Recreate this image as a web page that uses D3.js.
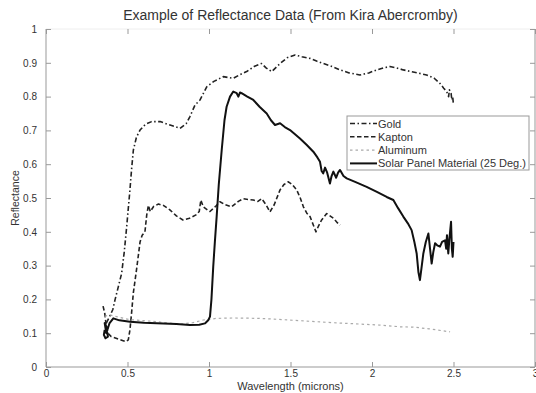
<!DOCTYPE html>
<meta charset="UTF-8">
<title>Reflectance Data</title>
<style>
  body { margin: 0; background: #fff; }
  text { font-family: "Liberation Sans", Arial, sans-serif; fill: #333; }
</style>
<svg width="536" height="393"></svg>
<script src="https://d3js.org/d3.v7.min.js"></script>
<script>
// wavelength (microns), reflectance
var gold = [[0.37,0.13],[0.39,0.149],[0.41,0.17],[0.423,0.198],[0.445,0.24],[0.464,0.277],[0.48,0.34],[0.495,0.415],[0.505,0.47],
  [0.515,0.524],[0.525,0.585],[0.536,0.642],[0.555,0.68],[0.577,0.701],[0.61,0.718],[0.648,0.726],[0.70,0.726],[0.761,0.716],
  [0.822,0.706],[0.86,0.72],[0.883,0.741],[0.914,0.775],[0.945,0.79],[0.986,0.829],[1.03,0.845],[1.088,0.859],[1.149,0.854],
  [1.19,0.865],[1.231,0.874],[1.28,0.89],[1.323,0.898],[1.35,0.885],[1.385,0.874],[1.436,0.898],[1.48,0.915],[1.528,0.923],
  [1.57,0.918],[1.62,0.913],[1.66,0.905],[1.701,0.898],[1.75,0.89],[1.804,0.879],[1.86,0.87],[1.926,0.864],[1.98,0.87],
  [2.029,0.879],[2.07,0.885],[2.11,0.889],[2.15,0.885],[2.192,0.879],[2.26,0.872],[2.335,0.864],[2.38,0.855],[2.417,0.839],
  [2.44,0.825],[2.458,0.815],[2.47,0.80],[2.475,0.82],[2.485,0.81],[2.49,0.79],[2.495,0.80],[2.50,0.775]];

var kapton = [[0.35,0.18],[0.36,0.16],[0.37,0.12],[0.38,0.10],[0.40,0.09],[0.43,0.085],[0.46,0.08],[0.49,0.075],[0.505,0.08],
  [0.515,0.11],[0.525,0.16],[0.536,0.22],[0.556,0.29],[0.577,0.37],[0.59,0.39],[0.607,0.40],[0.618,0.45],[0.628,0.478],
  [0.64,0.46],[0.66,0.475],[0.69,0.482],[0.72,0.478],[0.76,0.465],[0.80,0.447],[0.84,0.435],[0.88,0.44],[0.92,0.45],
  [0.94,0.46],[0.95,0.494],[0.965,0.474],[0.99,0.465],[1.006,0.46],[1.04,0.475],[1.067,0.489],[1.10,0.48],[1.139,0.474],
  [1.18,0.49],[1.21,0.498],[1.25,0.495],[1.272,0.494],[1.30,0.49],[1.323,0.498],[1.35,0.48],[1.374,0.459],[1.40,0.48],
  [1.436,0.524],[1.46,0.54],[1.487,0.548],[1.51,0.54],[1.538,0.524],[1.56,0.50],[1.579,0.474],[1.60,0.455],[1.62,0.445],
  [1.64,0.42],[1.656,0.40],[1.67,0.415],[1.691,0.435],[1.722,0.454],[1.74,0.448],[1.763,0.44],[1.785,0.428],[1.804,0.42]];

var aluminum = [[0.36,0.15],[0.393,0.154],[0.45,0.147],[0.515,0.14],[0.6,0.137],[0.679,0.134],[0.75,0.13],[0.822,0.127],
  [0.9,0.131],[0.965,0.139],[1.006,0.141],[1.047,0.144],[1.15,0.145],[1.293,0.144],[1.39,0.142],[1.558,0.137],[1.66,0.134],
  [1.763,0.131],[1.967,0.126],[2.049,0.124],[2.172,0.119],[2.254,0.118],[2.35,0.113],[2.479,0.104]];

var solar = [[0.36,0.11],[0.355,0.095],[0.365,0.085],[0.38,0.09],[0.37,0.12],[0.36,0.13],[0.37,0.10],[0.39,0.13],[0.413,0.144],
  [0.45,0.138],[0.515,0.134],[0.6,0.131],[0.72,0.129],[0.80,0.127],[0.883,0.124],[0.94,0.125],[0.975,0.129],[0.995,0.138],
  [1.006,0.149],[1.015,0.2],[1.026,0.297],[1.036,0.37],[1.047,0.445],[1.06,0.54],[1.078,0.642],[1.095,0.73],[1.108,0.77],
  [1.129,0.80],[1.149,0.815],[1.17,0.81],[1.18,0.80],[1.19,0.812],[1.2,0.81],[1.235,0.80],[1.272,0.79],[1.31,0.77],
  [1.354,0.75],[1.38,0.73],[1.405,0.716],[1.436,0.721],[1.465,0.71],[1.497,0.701],[1.558,0.676],[1.60,0.657],[1.64,0.637],
  [1.665,0.62],[1.681,0.607],[1.691,0.58],[1.701,0.573],[1.712,0.59],[1.725,0.575],[1.742,0.543],[1.752,0.565],[1.763,0.578],
  [1.78,0.56],[1.792,0.575],[1.804,0.583],[1.825,0.565],[1.845,0.558],[1.90,0.547],[1.967,0.533],[2.03,0.518],[2.09,0.503],
  [2.131,0.494],[2.16,0.47],[2.192,0.445],[2.22,0.425],[2.243,0.405],[2.26,0.37],[2.274,0.336],[2.285,0.28],[2.294,0.257],
  [2.303,0.29],[2.315,0.336],[2.33,0.37],[2.346,0.395],[2.356,0.35],[2.366,0.306],[2.376,0.34],[2.387,0.366],[2.40,0.36],
  [2.417,0.356],[2.43,0.37],[2.448,0.375],[2.455,0.35],[2.46,0.39],[2.468,0.336],[2.475,0.38],[2.485,0.43],[2.49,0.35],
  [2.495,0.326],[2.5,0.37]];

var xTicks = [0, 0.5, 1, 1.5, 2, 2.5, 3];
var yTicks = [0, 0.1, 0.2, 0.3, 0.4, 0.5, 0.6, 0.7, 0.8, 0.9, 1];
var names = ["Gold", "Kapton", "Aluminum", "Solar Panel Material (25 Deg.)"];

var svg = d3.select("svg");
var pL = 46, pR = 535, pT = 29, pB = 367;

var x = d3.scaleLinear().domain([0, 3]).range([pL, pR]);
var y = d3.scaleLinear().domain([0, 1]).range([pB, pT]);

var styles = [
  {data: gold, stroke: "#222", width: 1.6, dash: "5,2.5,1.5,2.5"},
  {data: kapton, stroke: "#222", width: 1.6, dash: "4.5,2.5"},
  {data: aluminum, stroke: "#aaa", width: 1.2, dash: "2.5,3"},
  {data: solar, stroke: "#111", width: 2, dash: null}
];

var line = d3.line()
    .x(function(d) { return x(d[0]); })
    .y(function(d) { return y(d[1]); });

// box (top edge barely visible in the original)
svg.append("line").attr("x1", pL).attr("x2", pR).attr("y1", pT).attr("y2", pT).attr("stroke", "#eee");
svg.append("line").attr("x1", pL).attr("x2", pL).attr("y1", pT).attr("y2", pB).attr("stroke", "#999");
svg.append("line").attr("x1", pL).attr("x2", pR).attr("y1", pB).attr("y2", pB).attr("stroke", "#999");
svg.append("line").attr("x1", pR).attr("x2", pR).attr("y1", pT).attr("y2", pB).attr("stroke", "#999");

// axes with inward ticks
var xAxis = svg.append("g")
    .attr("transform", "translate(0," + pB + ")")
    .call(d3.axisBottom(x).tickValues(xTicks).tickSizeInner(-5).tickSizeOuter(0).tickPadding(7).tickFormat(d3.format("")));
var yAxis = svg.append("g")
    .attr("transform", "translate(" + pL + ",0)")
    .call(d3.axisLeft(y).tickValues(yTicks).tickSizeInner(-5).tickSizeOuter(0).tickPadding(9).tickFormat(d3.format("")));
var xTop = svg.append("g")
    .attr("transform", "translate(0," + pT + ")")
    .call(d3.axisTop(x).tickValues(xTicks).tickSizeInner(-5).tickSizeOuter(0).tickFormat(""));
var yRight = svg.append("g")
    .attr("transform", "translate(" + pR + ",0)")
    .call(d3.axisRight(y).tickValues(yTicks).tickSizeInner(-5).tickSizeOuter(0).tickFormat(""));

[xAxis, yAxis, xTop, yRight].forEach(function(a) {
  a.select(".domain").remove();
  a.selectAll("line").attr("stroke", "#999");
  a.selectAll("text").attr("font-size", 10).attr("fill", "#444")
    .attr("font-family", "Liberation Sans, Arial, sans-serif");
});
xAxis.selectAll("text").attr("dy", "0.3em");

// series
styles.forEach(function(s) {
  svg.append("path")
      .datum(s.data)
      .attr("fill", "none")
      .attr("stroke", s.stroke)
      .attr("stroke-width", s.width)
      .attr("stroke-dasharray", s.dash)
      .attr("stroke-linejoin", "round")
      .attr("d", line);
});

// title and labels
svg.append("text")
    .attr("x", (pL + pR) / 2).attr("y", 20)
    .attr("text-anchor", "middle").attr("font-size", 14)
    .text("Example of Reflectance Data (From Kira Abercromby)");
svg.append("text")
    .attr("x", (pL + pR) / 2).attr("y", 390)
    .attr("text-anchor", "middle").attr("font-size", 11)
    .text("Wavelength (microns)");
svg.append("text")
    .attr("transform", "translate(19," + ((pT + pB) / 2) + ") rotate(-90)")
    .attr("text-anchor", "middle").attr("font-size", 10.5)
    .text("Reflectance");

// legend
var lg = svg.append("g").attr("transform", "translate(347,116)");
lg.append("rect")
    .attr("width", 182).attr("height", 54)
    .attr("fill", "#fff").attr("stroke", "#999");
names.forEach(function(n, i) {
  var ly = 7.5 + i * 13.3;
  lg.append("line")
      .attr("x1", 3).attr("x2", 30).attr("y1", ly).attr("y2", ly)
      .attr("stroke", styles[i].stroke)
      .attr("stroke-width", styles[i].width)
      .attr("stroke-dasharray", styles[i].dash);
  lg.append("text")
      .attr("x", 31).attr("y", ly + 4)
      .attr("font-size", 11)
      .text(n);
});
</script>
